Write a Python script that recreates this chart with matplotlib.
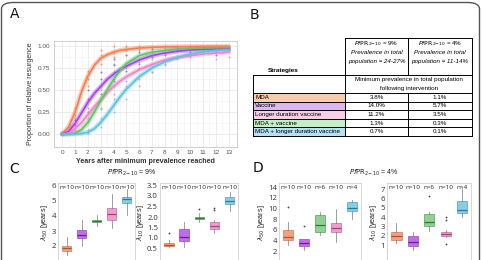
import matplotlib
matplotlib.use("Agg")
import matplotlib.pyplot as plt
from matplotlib.patches import Rectangle, FancyBboxPatch
from matplotlib.lines import Line2D
import matplotlib.transforms as mtransforms

plt.rcParams['font.family'] = ['Liberation Sans', 'DejaVu Sans']
plt.rcParams['mathtext.fontset'] = 'dejavusans'

W, H = 483, 260
fig = plt.figure(figsize=(W/100, H/100), dpi=100)

def fx(x): return x / W
def fy(y): return 1 - y / H
def add_ax(l, t, r, b):
    return fig.add_axes([fx(l), fy(b), (r - l) / W, (b - t) / H])

# ---------------- data ----------------
strategies = ["MDA", "Vaccine", "Longer duration vaccine", "MDA + vaccine",
              "MDA + longer duration vaccine"]
curve_colors = ["#F47E4E", "#A443F0", "#EC86C4", "#62C466", "#5FC0E6"]
fill_colors = ["#F9CBAA", "#DDB8F0", "#F8CDE6", "#C3EFC6", "#B7E1F2"]

years = [0, 0.5, 1, 1.5, 2, 2.5, 3, 3.5, 4, 4.5, 5, 6, 7, 8, 9, 10, 11, 12, 13]
res_mda = [0, 0.08, 0.25, 0.48, 0.66, 0.78, 0.86, 0.90, 0.93, 0.95, 0.962, 0.977, 0.985, 0.99, 0.992, 0.993, 0.994, 0.995, 0.995]
res_vac = [0, 0.03, 0.12, 0.24, 0.36, 0.46, 0.54, 0.62, 0.68, 0.73, 0.77, 0.84, 0.89, 0.92, 0.94, 0.955, 0.963, 0.968, 0.972]
res_long = [0, 0.01, 0.06, 0.13, 0.22, 0.31, 0.39, 0.47, 0.54, 0.60, 0.65, 0.73, 0.79, 0.84, 0.87, 0.89, 0.91, 0.92, 0.93]
res_mdavac = [0, 0.0, 0.01, 0.05, 0.13, 0.25, 0.38, 0.50, 0.62, 0.72, 0.80, 0.89, 0.93, 0.95, 0.965, 0.973, 0.978, 0.98, 0.982]
res_mdalong = [0, 0, 0, 0.005, 0.02, 0.06, 0.13, 0.22, 0.32, 0.42, 0.51, 0.65, 0.75, 0.82, 0.87, 0.91, 0.935, 0.95, 0.96]
curves = [res_mda, res_vac, res_long, res_mdavac, res_mdalong]

pts_mda_x = [1, 1, 1, 2, 2, 2, 3, 3, 3, 4, 4, 4, 5, 5, 6, 6, 7, 8, 9, 10]
pts_mda_y = [0.18, 0.30, 0.22, 0.55, 0.72, 0.63, 0.80, 0.90, 0.95, 0.92, 1.0, 0.88, 0.95, 1.0, 0.97, 1.0, 0.99, 1.0, 0.99, 1.0]
pts_vac_x = [1, 1, 2, 2, 2, 3, 3, 3, 4, 4, 4, 5, 5, 6, 6, 7, 7, 8, 9, 10, 11, 12, 13]
pts_vac_y = [0.10, 0.16, 0.25, 0.40, 0.50, 0.45, 0.62, 0.70, 0.60, 0.78, 0.85, 0.72, 0.90, 0.80, 0.93, 0.88, 0.97, 0.90, 0.95, 0.93, 0.99, 0.90, 0.97]
pts_long_x = [1, 2, 2, 3, 3, 4, 4, 5, 5, 6, 6, 7, 7, 8, 8, 9, 10, 11, 12, 13, 13]
pts_long_y = [0.04, 0.18, 0.30, 0.30, 0.50, 0.45, 0.62, 0.55, 0.75, 0.62, 0.82, 0.70, 0.88, 0.78, 0.92, 0.85, 0.88, 0.92, 0.85, 0.88, 0.95]
pts_mdavac_x = [2, 2, 3, 3, 3, 4, 4, 4, 5, 5, 6, 6, 7, 8, 9, 10, 12]
pts_mdavac_y = [0.05, 0.15, 0.28, 0.45, 0.55, 0.55, 0.70, 0.80, 0.78, 0.90, 0.85, 0.95, 0.93, 0.97, 0.97, 0.98, 0.97]
pts_mdalong_x = [2, 3, 3, 4, 4, 5, 5, 6, 6, 7, 7, 8, 9, 10, 11, 12, 13]
pts_mdalong_y = [0.01, 0.08, 0.18, 0.25, 0.40, 0.40, 0.60, 0.55, 0.75, 0.70, 0.85, 0.80, 0.88, 0.90, 0.95, 0.93, 0.96]
pts_x = [pts_mda_x, pts_vac_x, pts_long_x, pts_mdavac_x, pts_mdalong_x]
pts_y = [pts_mda_y, pts_vac_y, pts_long_y, pts_mdavac_y, pts_mdalong_y]

min_prev_9 = ["3.8%", "14.0%", "11.2%", "1.3%", "0.7%"]
min_prev_4 = ["1.1%", "5.7%", "3.5%", "0.3%", "0.1%"]

# boxplot panels (order as drawn: MDA, Vaccine, MDA+vaccine, Longer, MDA+longer)
box_colors = ["#F4916A", "#B552E8", "#7CC97C", "#EE8CC6", "#6FC6E6"]
box_dark = ["#B8502A", "#6E1E9A", "#2F7A33", "#A83E7C", "#2B7C9C"]

c50_q1 = [1.70, 2.55, 3.60, 3.75, 4.90]
c50_med = [1.85, 2.75, 3.68, 4.15, 5.15]
c50_q3 = [2.00, 3.10, 3.76, 4.55, 5.30]
c50_lo = [1.40, 2.00, 3.35, 3.20, 4.10]
c50_hi = [2.60, 3.75, 4.05, 5.45, 5.80]
c50_fl = [[], [], [], [], []]
c50_n = ["n=10", "n=10", "n=10", "n=10", "n=10"]

c10_q1 = [0.62, 0.85, 1.92, 1.45, 2.62]
c10_med = [0.68, 1.05, 1.97, 1.55, 2.75]
c10_q3 = [0.76, 1.45, 2.02, 1.75, 2.95]
c10_lo = [0.55, 0.55, 1.78, 1.25, 2.30]
c10_hi = [0.90, 1.75, 2.20, 1.85, 3.20]
c10_fl = [[1.25], [], [2.40], [2.35, 2.45], []]
c10_n = ["n=10", "n=10", "n=10", "n=10", "n=10"]

d50_q1 = [4.0, 3.0, 5.5, 5.5, 9.5]
d50_med = [4.7, 3.5, 6.8, 6.4, 10.0]
d50_q3 = [5.9, 4.2, 8.8, 7.3, 11.2]
d50_lo = [3.2, 2.2, 5.0, 3.6, 8.0]
d50_hi = [7.5, 4.3, 9.3, 9.8, 11.5]
d50_fl = [[10.2], [6.6], [], [], []]
d50_n = ["n=10", "n=10", "n=6", "n=10", "n=4"]

d10_q1 = [1.5, 0.9, 3.0, 2.0, 4.4]
d10_med = [1.95, 1.3, 3.5, 2.2, 4.8]
d10_q3 = [2.4, 2.0, 4.3, 2.4, 5.7]
d10_lo = [1.2, 0.5, 2.5, 1.9, 4.0]
d10_hi = [3.4, 2.4, 4.5, 2.6, 7.1]
d10_fl = [[], [], [6.3], [3.7, 4.0, 1.1], []]
d10_n = ["n=10", "n=10", "n=6", "n=10", "n=4"]

# ---------------- outer border ----------------
border = FancyBboxPatch((fx(1.5), fy(300)), fx(478), (299 - 1.5) / H,
                        boxstyle="round,pad=0,rounding_size=0.025",
                        transform=fig.transFigure, fill=False,
                        edgecolor="#555555", linewidth=1.0, clip_on=False)
fig.patches.append(border)

# panel labels
for lab, x, y in [("A", 10, 14), ("B", 250, 15), ("C", 9, 169), ("D", 253, 168)]:
    fig.text(fx(x), fy(y), lab, fontsize=10, ha="left", va="center",
             family=["DejaVu Sans"], color="#111111")

# ---------------- Panel A ----------------
axA = add_ax(54, 41, 237, 147)
axA.set_xlim(-0.65, 13.65)
axA.set_ylim(-0.148, 1.057)
axA.set_xticks(range(0, 14))
axA.set_yticks([0, 0.25, 0.5, 0.75, 1.0])
axA.set_yticklabels(["0.00", "0.25", "0.50", "0.75", "1.00"])
axA.set_yticks([0.125, 0.375, 0.625, 0.875], minor=True)
axA.set_xticks([i + 0.5 for i in range(13)], minor=True)
axA.grid(which="major", color="#E3E3E3", lw=0.5)
axA.grid(which="minor", color="#F2F2F2", lw=0.4)
axA.set_axisbelow(True)
for s in axA.spines.values():
    s.set_color("#C8C8C8"); s.set_linewidth(0.6)
axA.tick_params(which="both", length=0)
axA.tick_params(which="major", labelsize=4.6, colors="#555555", pad=2.5)
for i in range(5):
    axA.scatter(pts_x[i], pts_y[i], s=2.0, color=curve_colors[i], alpha=0.8, lw=0, zorder=2)
for i in range(5):
    axA.plot(years, curves[i], color=curve_colors[i], lw=3.4, alpha=0.4,
             solid_capstyle="round", zorder=3)
    axA.plot(years, curves[i], color=curve_colors[i], lw=1.2, alpha=1.0, zorder=4)
axA.set_xlabel("Years after minimum prevalence reached", fontsize=5.1,
               fontweight="bold", color="#333333", labelpad=1.5)
axA.set_ylabel("Proportion of relative resurgence", fontsize=5.0, color="#333333", labelpad=3)

# ---------------- Panel B (table) ----------------
lw_t = 0.7
def hline(y, x0, x1):
    fig.add_artist(Line2D([fx(x0), fx(x1)], [fy(y), fy(y)], color="black", lw=lw_t))
def vline(x, y0, y1):
    fig.add_artist(Line2D([fx(x), fx(x)], [fy(y0), fy(y1)], color="black", lw=lw_t))

tx0, tx1, tx2, tx3 = 253, 345, 408, 472
row_edges = [93, 101.6, 110.2, 118.8, 127.4, 136]
for i in range(5):
    fig.add_artist(Rectangle((fx(tx0), fy(row_edges[i + 1])), (tx1 - tx0) / W,
                             (row_edges[i + 1] - row_edges[i]) / H,
                             transform=fig.transFigure, facecolor=fill_colors[i],
                             edgecolor="none"))
hline(38, tx1, tx3)
hline(75, tx0, tx3)
for y in row_edges:
    hline(y, tx0, tx3)
vline(tx0, 75, 136)
vline(tx1, 38, 136)
vline(tx2, 38, 75)
vline(tx2, 93, 136)
vline(tx3, 38, 136)

fs_t = 4.5
fig.text(fx(283), fy(71), "Strategies", fontsize=4.6, fontweight="bold", ha="center", va="center")
for xc, val, rng in [((tx1 + tx2) / 2, "9%", "24-27%"), ((tx2 + tx3) / 2, "4%", "11-14%")]:
    fig.text(fx(xc), fy(44), r"$\mathit{Pf}\mathrm{PR}_{2\mathrm{-}10}$ = " + val,
             fontsize=fs_t, ha="center", va="center")
    fig.text(fx(xc), fy(53), "Prevalence in total", fontsize=fs_t, style="italic",
             ha="center", va="center")
    fig.text(fx(xc), fy(62), "population \u2248 " + rng, fontsize=fs_t, style="italic",
             ha="center", va="center")
fig.text(fx((tx1 + tx3) / 2), fy(80), "Minimum prevalence in total population",
         fontsize=fs_t, ha="center", va="center")
fig.text(fx((tx1 + tx3) / 2), fy(88.5), "following intervention",
         fontsize=fs_t, ha="center", va="center")
for i in range(5):
    yc = (row_edges[i] + row_edges[i + 1]) / 2
    fig.text(fx(tx0 + 2), fy(yc), strategies[i], fontsize=fs_t, ha="left", va="center")
    fig.text(fx((tx1 + tx2) / 2), fy(yc), min_prev_9[i], fontsize=fs_t, ha="center", va="center")
    fig.text(fx((tx2 + tx3) / 2), fy(yc), min_prev_4[i], fontsize=fs_t, ha="center", va="center")

# ---------------- Panels C and D ----------------
def box_panel(l, r, ylim, yticks, yticklabels, q1, med, q3, lo, hi, fl, ns, ylabel):
    ax = add_ax(l, 183, r, 262)
    stats = []
    for i in range(5):
        stats.append(dict(q1=q1[i], med=med[i], q3=q3[i], whislo=lo[i], whishi=hi[i],
                          fliers=fl[i]))
    bp = ax.bxp(stats, positions=[1, 2, 3, 4, 5], widths=0.62, patch_artist=True,
                showcaps=False,
                flierprops=dict(marker="o", markersize=1.3, markerfacecolor="#444444",
                                markeredgecolor="none"),
                whiskerprops=dict(color="#777777", lw=0.5),
                medianprops=dict(lw=0.9))
    for i, b in enumerate(bp["boxes"]):
        b.set_facecolor(box_colors[i]); b.set_alpha(0.85)
        b.set_edgecolor(box_dark[i]); b.set_linewidth(0.4)
    for i, m in enumerate(bp["medians"]):
        m.set_color(box_dark[i])
    ax.set_xlim(0.42, 5.55)
    ax.set_ylim(*ylim)
    ax.set_yticks(yticks)
    ax.set_yticklabels(yticklabels)
    ax.set_xticks([])
    ax.tick_params(axis="y", length=0, labelsize=5.6, colors="#333333", pad=1.5)
    for t in ax.get_yticklabels():
        t.set_family(["Open Sans", "DejaVu Sans"])
    for s in ax.spines.values():
        s.set_color("#D0D0D0"); s.set_linewidth(0.6)
    trans = mtransforms.blended_transform_factory(ax.transData, ax.transAxes)
    for i in range(5):
        ax.text(i + 1, 1 - 4.5 / 79, ns[i], transform=trans, ha="center", va="center",
                fontsize=4.6, color="#222222", family=["Open Sans", "DejaVu Sans"])
    ax.set_ylabel(ylabel, fontsize=5.2, color="#222222", labelpad=1)
    return ax

# pixel mapping for y-limits (axes top 183, bottom 262)
def ylim_from(v_a, p_a, v_b, p_b):
    k = (p_b - p_a) / (v_a - v_b)  # px per unit
    top = v_a + (p_a - 183) / k
    bot = v_b - (262 - p_b) / k
    return (bot, top)

box_panel(58, 135, ylim_from(6, 186, 2, 246), [2, 3, 4, 5, 6], ["2", "3", "4", "5", "6"],
          c50_q1, c50_med, c50_q3, c50_lo, c50_hi, c50_fl, c50_n, r"$\lambda_{50}$ [years]")
box_panel(160, 238, ylim_from(3.5, 185.5, 0.5, 248.5), [0.5, 1, 1.5, 2, 2.5, 3, 3.5],
          ["0.5", "1.0", "1.5", "2.0", "2.5", "3.0", "3.5"],
          c10_q1, c10_med, c10_q3, c10_lo, c10_hi, c10_fl, c10_n, r"$\lambda_{10}$ [years]")
box_panel(279, 361, ylim_from(14, 187, 2, 251), [2, 4, 6, 8, 10, 12, 14],
          ["2", "4", "6", "8", "10", "12", "14"],
          d50_q1, d50_med, d50_q3, d50_lo, d50_hi, d50_fl, d50_n, r"$\lambda_{50}$ [years]")
box_panel(387, 471, ylim_from(7, 189, 1, 245), [1, 2, 3, 4, 5, 6, 7],
          ["1", "2", "3", "4", "5", "6", "7"],
          d10_q1, d10_med, d10_q3, d10_lo, d10_hi, d10_fl, d10_n, r"$\lambda_{10}$ [years]")

fig.text(fx(132), fy(173), r"$\mathit{Pf}\mathrm{PR}_{2\mathrm{-}10}$ = 9%", fontsize=5.0,
         ha="center", va="center", color="#222222")
fig.text(fx(374), fy(173), r"$\mathit{Pf}\mathrm{PR}_{2\mathrm{-}10}$ = 4%", fontsize=5.0,
         ha="center", va="center", color="#222222")

fig.savefig("out.png", dpi=100)
